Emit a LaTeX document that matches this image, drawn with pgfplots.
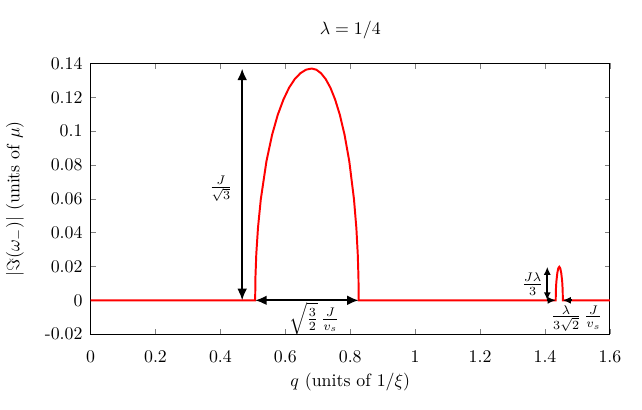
\documentclass[border=0pt]{standalone}
\usepackage{pgfplots}
\pgfplotsset{compat=1.18}
\usetikzlibrary{arrows.meta}

\begin{document}
\begin{tikzpicture}
\begin{axis}[
  scale only axis,
  width=291.4pt, height=151.9pt,
  xmin=0, xmax=1.6, ymin=-0.02, ymax=0.14,
  xtick={0,0.2,0.4,0.6,0.8,1,1.2,1.4,1.6},
  xticklabels={0,0.2,0.4,0.6,0.8,1,1.2,1.4,1.6},
  ytick={-0.02,0,0.02,0.04,0.06,0.08,0.1,0.12,0.14},
  yticklabels={\mbox{-}0.02,0,0.02,0.04,0.06,0.08,0.1,0.12,0.14},
  xtick pos=both, ytick pos=both,
  tick align=inside,
  major tick length=3pt,
  xticklabel style={yshift=-5.5pt},
  yticklabel style={xshift=-1pt},
  axis line style={line width=0.5pt},
  clip=false,
]
% |Im(omega_-)| vs q
\addplot[red, line width=1.1pt] table {
x y
0 0
0.507 0
0.5079 0.0137
0.5105 0.0273
0.5157 0.0428
0.5244 0.0597
0.5418 0.0822
0.5592 0.0978
0.5766 0.1096
0.594 0.1186
0.6114 0.1256
0.6288 0.1307
0.6462 0.1342
0.6636 0.1363
0.681 0.1370
0.6955 0.1363
0.710 0.1342
0.7245 0.1307
0.739 0.1256
0.7535 0.1186
0.768 0.1096
0.7825 0.0978
0.797 0.0822
0.8115 0.0597
0.8188 0.0428
0.8231 0.0273
0.8253 0.0137
0.826 0
1.433 0
1.4335 0.006
1.435 0.011
1.438 0.0162
1.441 0.019
1.444 0.0198
1.447 0.019
1.450 0.0162
1.453 0.011
1.4545 0.006
1.455 0
1.6 0
};

% arrows
\draw[line width=1.1pt, {Latex[length=6.5pt,width=5.5pt]}-{Latex[length=6.5pt,width=5.5pt]}]
  (axis cs:0.467,0) -- (axis cs:0.467,0.137);
\draw[line width=1.1pt, {Latex[length=6.5pt,width=5.5pt]}-{Latex[length=6.5pt,width=5.5pt]}]
  (axis cs:0.507,0) -- (axis cs:0.826,0);
\draw[line width=1.1pt, {Latex[length=4.5pt,width=4pt]}-{Latex[length=4.5pt,width=4pt]}]
  (axis cs:1.407,0) -- (axis cs:1.407,0.0198);
\draw[line width=1.1pt, -{Latex[length=4.5pt,width=4pt]}]
  (axis cs:1.405,0) -- (axis cs:1.433,0);
\draw[line width=1.1pt, -{Latex[length=4.5pt,width=4pt]}]
  (axis cs:1.483,0) -- (axis cs:1.455,0);

% labels
\node at (axis cs:0.4015,0.066) {$\frac{J}{\sqrt{3}}$};
\node at (axis cs:0.689,-0.0106) {$\sqrt{\frac{3}{2}}\,\frac{J}{v_s}$};
\node at (axis cs:1.362,0.0095) {$\frac{J\lambda}{3}$};
\node at (axis cs:1.498,-0.0106) {$\frac{\lambda}{3\sqrt{2}}\,\frac{J}{v_s}$};

\node[anchor=base] at ([yshift=16pt]rel axis cs:0.5,1) {$\lambda = 1/4$};
\node[anchor=base] at ([yshift=-29.3pt]rel axis cs:0.5,0) {$q$ (units of $1/\xi$)};
\node[rotate=90, anchor=base] at ([xshift=-40pt]rel axis cs:0,0.5) {$|\Im(\omega_-)|$ (units of $\mu$)};

% page frame
\path ([xshift=-50.6pt,yshift=-42.5pt]rel axis cs:0,0) rectangle ([xshift=18pt,yshift=35.6pt]rel axis cs:1,1);
\end{axis}
\end{tikzpicture}
\end{document}
